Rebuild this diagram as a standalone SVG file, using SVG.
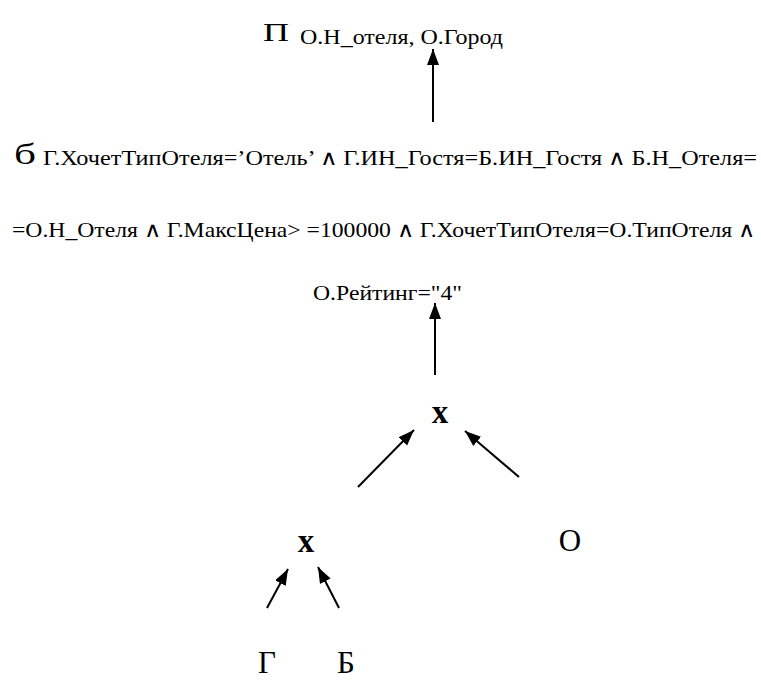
<svg xmlns="http://www.w3.org/2000/svg" width="761" height="680" viewBox="0 0 761 680">
<style>
text{font-family:"Liberation Serif","Times New Roman",serif;fill:#000}
.sub{font-size:21px}
.big{font-size:31px}
.op{font-size:33px;font-weight:bold}
.edge{stroke:#000;stroke-width:2;fill:none;marker-end:url(#ah)}
</style>
<defs>
<marker id="ah" markerUnits="userSpaceOnUse" markerWidth="18" markerHeight="14" refX="16" refY="6" orient="auto">
<path d="M0,0 L16,6 L0,12 z" fill="#000"/>
</marker>
</defs>
<rect width="761" height="680" fill="#fff"/>
<g id="projection">
<text x="263" y="41" font-size="25" textLength="26" lengthAdjust="spacingAndGlyphs">П</text>
<text x="300" y="44" class="sub" font-size="20" textLength="203" lengthAdjust="spacingAndGlyphs">О.Н_отеля, О.Город</text>
</g>
<g id="selection">
<text x="14" y="164" font-size="30" textLength="22" lengthAdjust="spacingAndGlyphs">б</text>
<text x="43" y="165" class="sub" textLength="714" lengthAdjust="spacingAndGlyphs">Г.ХочетТипОтеля=’Отель’ ∧ Г.ИН_Гостя=Б.ИН_Гостя ∧ Б.Н_Отеля=</text>
<text x="12" y="237" class="sub" textLength="743" lengthAdjust="spacingAndGlyphs">=О.Н_Отеля ∧ Г.МаксЦена&gt; =100000 ∧ Г.ХочетТипОтеля=О.ТипОтеля ∧</text>
<text x="313" y="300" class="sub" textLength="149" lengthAdjust="spacingAndGlyphs">О.Рейтинг="4"</text>
</g>
<g id="join1"><text x="440" y="423" class="op" text-anchor="middle">x</text></g>
<g id="join2"><text x="306" y="552" class="op" text-anchor="middle">x</text></g>
<g id="O"><text x="570" y="551" class="big" font-size="34" text-anchor="middle">О</text></g>
<g id="G"><text x="267" y="673" class="big" text-anchor="middle">Г</text></g>
<g id="B"><text x="346" y="673" class="big" text-anchor="middle">Б</text></g>
<g id="connectors">
<line class="edge" x1="433" y1="122" x2="433" y2="49"/>
<line class="edge" x1="435" y1="375" x2="435" y2="303"/>
<line class="edge" x1="358" y1="487" x2="414" y2="430"/>
<line class="edge" x1="519" y1="477" x2="465" y2="431"/>
<line class="edge" x1="267" y1="608" x2="288" y2="569"/>
<line class="edge" x1="339" y1="608" x2="318" y2="567"/>
</g>
</svg>
